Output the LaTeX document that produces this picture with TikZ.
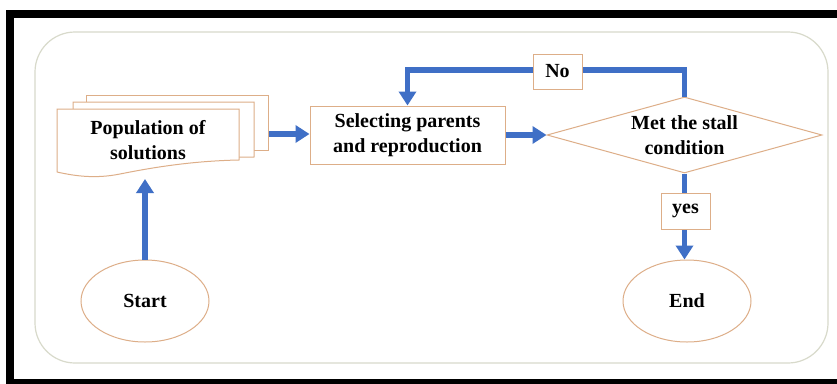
\documentclass[tikz,border=0pt]{standalone}
\usepackage{fontspec}
\setmainfont{Liberation Serif}
\usetikzlibrary{arrows.meta,shapes.geometric}
\definecolor{flowblue}{HTML}{3F6FC6}
\definecolor{boxline}{HTML}{DDAE88}
\definecolor{panel}{HTML}{D8DACB}
\tikzset{
  lbl/.style={font=\fontsize{20}{25}\selectfont\bfseries, align=center, text=black},
  boxnode/.style={draw=boxline, line width=1pt, fill=white, lbl},
  termnode/.style={ellipse, draw=boxline, line width=1pt, fill=white, lbl,
                   minimum width=128pt, minimum height=82pt, inner sep=0pt},
  doc/.style={draw=boxline, line width=1pt, fill=white},
  flow/.style={draw=flowblue, line width=5.5pt,
               -{Triangle[width=17pt,length=14pt]}},
  flowline/.style={draw=flowblue, line width=5.5pt}
}
\begin{document}
\begin{tikzpicture}[x=1pt,y=-1pt]
\useasboundingbox (0,0) rectangle (837,383);
\fill[white] (0,0) rectangle (837,383);
% outer black frame, running off the right and bottom edges
\draw[line width=8pt] (10,14) rectangle (850,383);
% rounded panel
\draw[panel, line width=1.2pt, rounded corners=40pt] (35,32) rectangle (828,363);

% stacked documents
\draw[doc] (86,150) -- (86,95) -- (268,95) -- (268,150) -- cycle;
\draw[doc] (73,160) -- (73,102) -- (254,102) -- (254,157)
  .. controls (200,158) and (140,155) .. (73,160);
\draw[doc] (57,172) -- (57,109) -- (239,109) -- (239,160)
  .. controls (190,161) and (150,168) .. (120,174)
  .. controls (95,179) and (75,176) .. (57,172);
\node[lbl] (pop) at (148,140) {Population of\\solutions};
\coordinate (popR) at (269,134);
\coordinate (popB) at (145,179);

% process nodes
\node[boxnode, minimum width=195pt, minimum height=58pt, inner sep=0pt] (sel) at (407.5,135) {Selecting parents\\and reproduction};
\node[diamond, draw=boxline, line width=1pt, fill=white, lbl, aspect=3.6, inner sep=0pt,
      minimum width=275pt, minimum height=76pt] (dia) at (684.5,135) {Met the stall\\condition};
\node[termnode] (start) at (145,301) {Start};
\node[termnode] (end) at (687,301) {End};

% connectors
\draw[flow] (start.north) -- (popB);
\draw[flow] (popR) -- (sel.west |- popR);
\draw[flow] (sel.east) -- (dia.west);
\coordinate (loop) at (557,70);
\draw[flowline] (dia.north) |- (loop);
\draw[flow] (loop) -| (sel.north);
\draw[flow] (dia.south) -- (dia.south |- end.north);

% branch labels
\node[boxnode, minimum width=49pt, minimum height=35pt, inner sep=0pt] (no) at (557.5,71.5) {No};
\node[boxnode, minimum width=49pt, minimum height=36pt, inner sep=0pt] (yes) at (685.5,211) {yes};
\end{tikzpicture}
\end{document}
